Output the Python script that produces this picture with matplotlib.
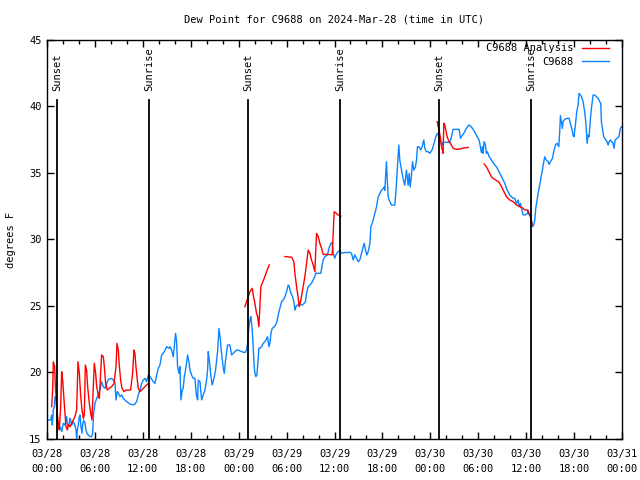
import numpy as np
import matplotlib
matplotlib.use("Agg")
import matplotlib.pyplot as plt
from matplotlib.ticker import MultipleLocator

nan = np.nan

# ---- data (hours since 2024-03-28 00:00 UTC) ----
obs_hours = [
    0.0, 0.46, 0.58, 0.67, 0.79, 0.92, 1.0, 1.13, 1.21, 1.29, 1.42, 1.63, 1.84, 2.04, 2.25, 2.46, 2.54, 2.71,
    2.88, 2.96, 3.09, 3.3, 3.5, 3.63, 3.71, 3.8, 3.92, 4.05, 4.13, 4.26, 4.38, 4.46, 4.59, 4.76, 4.88, 5.01,
    5.17, 5.38, 5.59, 5.72, 5.84, 6.01, 6.22, 6.42, 6.63, 6.84, 7.05, 7.26, 7.47, 7.68, 8.09, 8.3, 8.51, 8.64,
    8.8, 8.97, 9.14, 9.35, 9.55, 9.97, 10.39, 10.81, 11.01, 11.22, 11.43, 11.64, 11.85, 12.06, 12.27, 12.47,
    12.68, 12.89, 13.31, 13.52, 13.73, 13.93,
    14.14, 14.35, 14.69, 14.98, 15.27, 15.4, 15.6, 15.81, 15.94, 16.1, 16.23, 16.35, 16.52, 16.65, 16.77,
    16.94, 17.06, 17.19, 17.35, 17.61, 17.77, 17.9, 18.1, 18.31, 18.52, 18.73, 18.86, 18.94, 19.15, 19.36,
    19.57, 19.77, 19.98, 20.11, 20.19, 20.32, 20.53, 20.69, 20.9, 21.11, 21.36, 21.53, 21.69, 21.86, 22.07,
    22.2, 22.36, 22.61, 22.9, 23.11, 23.32, 23.74, 23.95, 24.36, 24.78, 24.99, 25.12,
    25.2, 25.28, 25.41, 25.53, 25.62, 25.7, 25.82, 25.95, 26.03, 26.16, 26.28, 26.37, 26.53, 26.66, 26.87,
    27.07, 27.28, 27.41, 27.62, 27.79, 27.91, 28.04, 28.2, 28.45, 28.62, 28.79, 28.95, 29.16, 29.37, 29.58,
    29.79, 30.0, 30.2, 30.33, 30.54, 30.75, 30.91, 31.04, 31.16, 31.37, 31.67, 31.96, 32.21, 32.37, 32.5,
    32.71, 32.92, 33.12, 33.33, 33.54, 33.63, 33.96, 34.29, 34.46, 34.59, 34.8, 35.13, 35.3, 35.55, 35.71,
    35.84, 36.05, 36.17, 36.46, 36.67, 36.88, 37.3, 37.71, 37.92,
    38.13, 38.34, 38.55, 38.76, 38.97, 39.17, 39.38, 39.59, 39.72, 39.88, 40.05, 40.22, 40.43, 40.55, 40.72,
    40.84, 41.05, 41.26, 41.47, 41.68, 41.88, 42.09, 42.22, 42.3, 42.38, 42.51, 42.59, 42.72, 42.93, 43.14,
    43.55, 43.68, 43.89, 44.05, 44.18, 44.39, 44.59, 44.8, 45.01, 45.22, 45.35, 45.47, 45.64, 45.77, 45.93,
    46.14, 46.27, 46.39, 46.56, 46.81, 47.02, 47.18, 47.31, 47.52, 47.73, 47.93, 48.22, 48.47, 48.68, 48.89,
    49.1, 49.31, 49.48,
    49.6, 50.02, 50.44, 50.65, 50.85, 51.27, 51.61, 51.77, 51.94, 52.19, 52.52, 52.81, 53.06, 53.36, 53.65,
    53.86, 54.11, 54.27, 54.4, 54.52, 54.61, 54.73, 54.9, 55.02, 55.15, 55.36, 55.53, 55.78, 56.07, 56.28,
    56.49, 56.69, 56.9, 57.11, 57.32, 57.53, 57.74, 57.94, 58.15, 58.36, 58.57, 58.78, 58.99, 59.11, 59.28,
    59.41, 59.62, 59.87, 60.12, 60.24, 60.37,
    60.45, 60.66, 60.78, 60.95, 61.08, 61.2, 61.37, 61.49, 61.7, 61.91, 62.04, 62.12, 62.33, 62.54, 62.75,
    62.87, 63.04, 63.29, 63.45, 63.66, 63.87, 64.08, 64.2, 64.29, 64.41, 64.54, 64.62, 64.83, 65.12, 65.37,
    65.54, 65.71, 65.87, 66.0, 66.08, 66.21, 66.33, 66.5, 66.62, 66.79, 66.92, 67.13, 67.33, 67.46, 67.55,
    67.63, 67.75, 67.88, 68.05, 68.17, 68.38, 68.59, 68.79, 69.0, 69.21, 69.34, 69.42, 69.55, 69.71, 69.97,
    70.13, 70.26, 70.38, 70.55, 70.72, 70.88, 71.01, 71.13, 71.38, 71.63, 71.72, 71.8, 72.0,
]
obs_values = [
    16.43, 16.43, 16.8, 16.05, 17.18, 17.43, 18.18, 18.18, 17.18, 16.3, 16.05, 15.93, 15.56, 16.18, 16.05, 16.68, 16.18, 15.93,
    16.55, 16.43, 16.05, 16.3, 16.05, 15.68, 15.05, 15.68, 16.05, 16.68, 16.8, 15.93, 15.43, 16.05, 16.43, 16.18, 15.68, 15.43,
    15.3, 15.18, 15.18, 15.43, 16.93, 17.68, 18.06, 18.31, 18.68, 19.31, 18.93, 18.81, 19.18, 19.48, 19.56, 19.43, 19.23, 17.93,
    18.56, 18.43, 18.18, 18.31, 18.06, 17.81, 17.63, 17.56, 17.63, 17.81, 18.31, 18.68, 19.18, 19.43, 19.56, 19.31,
    19.81, 19.68, 19.31, 19.18, 19.8, 20.31,
    20.56, 21.3, 21.57, 21.94, 21.82, 21.94, 21.69, 21.19, 21.94, 22.94, 22.32, 20.44, 19.94, 20.44, 17.94,
    18.68, 18.81, 19.68, 20.19, 21.32, 20.81, 20.19, 19.81, 19.56, 19.56, 18.19, 17.94, 19.43, 19.31, 17.94,
    18.31, 18.68, 19.43, 20.19, 21.57, 20.94, 19.68, 19.06, 19.56, 20.19, 21.57, 23.32, 22.57, 21.44, 20.31,
    19.94, 20.94, 22.07, 22.07, 21.32, 21.44, 21.69, 21.69, 21.57, 21.49, 21.7, 22.2,
    22.94, 23.44, 23.95, 24.2, 23.7, 23.2, 21.94, 20.44, 19.94, 19.69, 19.81, 20.44, 21.82, 21.82, 21.94,
    22.19, 22.32, 22.44, 22.69, 21.94, 22.19, 22.94, 23.32, 23.44, 23.57, 23.82, 24.32, 24.82, 25.33, 25.45,
    25.7, 26.08, 26.58, 26.46, 25.95, 25.7, 25.33, 24.7, 24.95, 25.08, 25.08, 25.08, 25.2, 25.33, 25.95,
    26.46, 26.58, 26.71, 26.96, 27.21, 27.46, 27.46, 27.46, 28.09, 28.46, 28.72, 28.84, 29.34, 29.72, 29.77,
    28.97, 28.6, 28.84, 29.1, 29.17, 28.97, 29.02, 29.02, 29.04,
    28.96, 28.46, 28.84, 28.59, 28.33, 28.46, 28.96, 29.46, 29.71, 29.21, 28.84, 29.09, 29.71, 30.96, 31.21,
    31.46, 31.96, 32.46, 33.2, 33.45, 33.7, 33.83, 33.95, 33.7, 34.58, 35.85, 34.7, 33.2, 32.84, 32.59,
    32.59, 33.45, 35.47, 37.1, 35.97, 35.22, 34.58, 34.08, 35.22, 34.08, 34.97, 33.95, 34.84, 35.85, 35.22,
    35.47, 35.97, 36.98, 36.98, 36.73, 37.1, 37.48, 36.85, 36.6, 36.6, 36.48, 36.73, 37.23, 37.73, 37.98,
    37.73, 37.35, 37.1,
    37.31, 37.31, 37.31, 37.73, 38.28, 38.28, 38.28, 37.61, 37.78, 37.98, 38.36, 38.61, 38.53, 38.28, 37.98,
    37.73, 37.48, 36.98, 36.53, 36.98, 36.48, 37.36, 37.1, 36.48, 36.6, 36.23, 36.1, 35.85, 35.6, 35.47,
    35.22, 34.97, 34.72, 34.47, 34.23, 33.85, 33.6, 33.35, 33.22, 33.1, 33.1, 32.72, 32.97, 32.47, 32.72,
    32.35, 31.85, 31.85, 31.92, 32.22, 31.85,
    31.85, 31.47, 30.97, 31.09, 31.47, 32.34, 32.97, 33.47, 34.1, 34.85, 35.22, 35.6, 36.22, 35.97, 35.85,
    35.65, 35.85, 36.1, 36.6, 37.1, 37.23, 36.98, 38.1, 39.31, 38.86, 38.36, 38.86, 39.04, 39.11, 39.11,
    38.73, 38.36, 37.85, 37.73, 38.23, 38.86, 39.6, 40.1, 40.99, 40.86, 40.74, 40.36, 39.6, 38.86, 38.1,
    37.23, 37.85, 37.73, 39.11, 39.85, 40.86, 40.86, 40.74, 40.61, 40.36, 40.23, 38.86, 38.36, 37.73, 37.48,
    37.35, 37.1, 37.35, 37.48, 37.35, 37.23, 36.85, 37.48, 37.6, 37.73, 38.1, 38.36, 38.5,
]

ana_hours = [
    0.58, 0.71, 0.79, 0.96, 1.04, 1.13, 1.29, 1.42, 1.54, 1.71, 1.84, 1.96, 2.13, 2.25, 2.38, 2.54, 2.67,
    2.88, 3.09, 3.3, 3.5, 3.71, 3.88, 4.05, 4.21, 4.38, 4.55, 4.67, 4.8, 4.96, 5.09, 5.3, 5.47, 5.63, 5.8,
    5.92, 6.09, 6.22, 6.42, 6.55, 6.84, 7.05, 7.18, 7.34, 7.55, 7.8, 8.09, 8.39, 8.64, 8.76, 8.93, 9.05,
    9.22, 9.39, 9.64, 9.89, 10.47, 10.72, 10.89, 11.01, 11.14, 11.31, 11.43, 11.64, 12.06, 12.68, 12.75,
    12.8,
    24.78, 25.2, 25.41, 25.7, 25.82, 26.03, 26.24, 26.37, 26.53, 26.66, 26.78, 26.95, 27.2, 27.49, 27.83,
    28.5,
    29.79, 30.62, 30.91, 31.04, 31.25, 31.46, 31.58, 31.79, 32.08, 32.29, 32.5, 32.71, 32.92, 33.12, 33.33,
    33.54, 33.75, 33.96, 34.17, 34.38, 34.59, 35.21, 35.71, 35.84, 35.96, 36.25, 36.46, 36.79,
    42.0,
    48.85, 48.98, 49.1, 49.27, 49.39, 49.52, 49.6, 49.69, 49.81, 49.94, 50.1, 50.35, 50.65, 50.85, 51.27,
    51.69, 52.11, 52.52, 52.73,
    53.5,
    54.73, 55.02, 55.23, 55.44, 55.65, 55.86, 56.19, 56.49, 56.69, 56.9, 57.11, 57.32, 57.53, 57.74, 57.94,
    58.36, 58.78, 59.2, 59.62, 59.82, 60.12, 60.37, 60.53, 60.66, 60.75,
]
ana_values = [
    17.43, 18.68, 20.81, 20.44, 19.06, 18.18, 16.93, 16.18, 15.68, 17.43, 20.06, 19.43, 17.93, 16.93, 15.93, 15.68, 16.06,
    15.93, 16.18, 16.43, 16.68, 17.18, 20.81, 19.94, 18.31, 17.18, 16.55, 16.8, 20.56, 20.19, 18.93, 17.68, 16.93, 16.43, 18.93,
    20.69, 19.94, 18.93, 18.31, 18.06, 21.32, 21.19, 20.44, 19.18, 18.68, 18.81, 18.93, 19.18, 20.44, 22.19, 21.69, 20.56,
    19.43, 18.81, 18.56, 18.68, 18.68, 19.94, 21.69, 21.44, 20.44, 19.43, 18.81, 18.56, 18.81, 19.18, 19.0,
    nan,
    24.95, 25.7, 26.08, 26.33, 25.83, 25.2, 24.45, 24.2, 23.44, 24.95, 26.46, 26.71, 27.08, 27.58, 28.09,
    nan,
    28.72, 28.67, 28.35, 27.46, 26.46, 25.58, 24.95, 25.45, 26.46, 27.21, 28.21, 29.21, 28.97, 28.46, 28.09,
    27.58, 30.46, 30.21, 29.71, 29.34, 28.88, 28.88, 28.84, 30.46, 32.09, 31.96, 31.84, 31.76,
    nan,
    38.86, 38.48, 38.23, 37.61, 36.98, 36.73, 36.48, 38.74, 38.61, 38.23, 37.73, 37.35, 37.1, 36.85, 36.78,
    36.8, 36.88, 36.9, 36.93,
    nan,
    35.68, 35.47, 35.22, 34.97, 34.72, 34.6, 34.47, 34.35, 34.23, 33.98, 33.72, 33.47, 33.22, 33.1, 32.97,
    32.85, 32.6, 32.47, 32.35, 32.22, 32.22, 31.97, 31.72, 31.34, 31.1,
]

sun_labels = ["Sunset", "Sunrise", "Sunset", "Sunrise", "Sunset", "Sunrise"]
sun_hours = [1.25, 12.77, 25.16, 36.67, 49.06, 60.58]

tick_hours = [0, 6, 12, 18, 24, 30, 36, 42, 48, 54, 60, 66, 72]
tick_labels = ["03/28\n00:00", "03/28\n06:00", "03/28\n12:00", "03/28\n18:00",
               "03/29\n00:00", "03/29\n06:00", "03/29\n12:00", "03/29\n18:00",
               "03/30\n00:00", "03/30\n06:00", "03/30\n12:00", "03/30\n18:00",
               "03/31\n00:00"]

plt.rcParams['font.family'] = ['DejaVu Sans Mono']
plt.rcParams['font.size'] = 7.5

fig = plt.figure(figsize=(6.4, 4.8), dpi=100)
ax = fig.add_axes([47/640, 1-439/480, (622-47)/640, (439-40)/480])

ax.plot(ana_hours, ana_values, color='#ff0000', lw=1.0, label='C9688 Analysis', zorder=3)
ax.plot(obs_hours, obs_values, color='#0a84ff', lw=1.0, label='C9688', zorder=2)

for lab, h in zip(sun_labels, sun_hours):
    ax.plot([h, h], [15, 40.5], color='black', lw=1.3, zorder=4)
    ax.annotate(lab, xy=(h, 40.5), xytext=(0, 6.5), textcoords='offset points',
                rotation=90, ha='center', va='bottom', fontsize=7.5)

ax.set_xlim(0, 72)
ax.set_ylim(15, 45)
ax.set_xticks(tick_hours)
ax.set_xticklabels(tick_labels, linespacing=1.6)
ax.xaxis.set_minor_locator(MultipleLocator(2))
ax.set_yticks([15, 20, 25, 30, 35, 40, 45])
ax.tick_params(which='both', direction='in', top=True, right=True, width=1, colors='black')
ax.tick_params(which='major', length=5)
ax.tick_params(axis='x', which='major', pad=7)
ax.tick_params(axis='y', which='major', pad=4)
ax.tick_params(which='minor', length=3)
for s in ax.spines.values():
    s.set_linewidth(1.0)

ax.set_ylabel('degrees F', labelpad=9)
ax.set_title('Dew Point for C9688 on 2024-Mar-28 (time in UTC)', fontsize=7.5, pad=12.5)

leg = ax.legend(loc='upper right', bbox_to_anchor=(1 - 8.5/575, 1 + 1.0/399),
                frameon=False, markerfirst=False, handlelength=2.6,
                borderaxespad=0.0, labelspacing=0.33, handletextpad=0.8, fontsize=7.5)
for t in leg.get_texts():
    t.set_ha('right')

fig.savefig('out.png', dpi=100)
